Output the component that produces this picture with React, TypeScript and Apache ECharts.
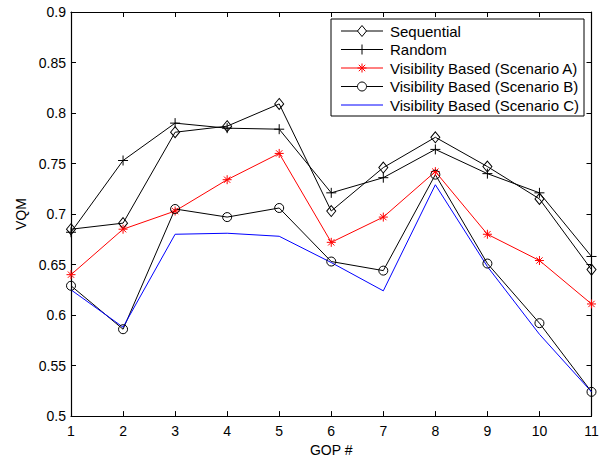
import React, { useEffect, useRef } from "react";
import * as echarts from "echarts";

const gopNumbers = [1, 2, 3, 4, 5, 6, 7, 8, 9, 10, 11];
const sequential = [0.685, 0.691, 0.781, 0.787, 0.809, 0.703, 0.746, 0.776, 0.747, 0.715, 0.645];
const random = [0.682, 0.753, 0.790, 0.785, 0.784, 0.721, 0.736, 0.764, 0.740, 0.721, 0.658];
const scenarioA = [0.640, 0.685, 0.703, 0.734, 0.760, 0.672, 0.697, 0.742, 0.680, 0.654, 0.611];
const scenarioB = [0.629, 0.586, 0.705, 0.697, 0.706, 0.653, 0.644, 0.739, 0.651, 0.592, 0.524];
const scenarioC = [0.625, 0.588, 0.680, 0.681, 0.678, 0.652, 0.624, 0.729, 0.648, 0.581, 0.524];
const seriesNames = [
  "Sequential",
  "Random",
  "Visibility Based (Scenario A)",
  "Visibility Based (Scenario B)",
  "Visibility Based (Scenario C)",
];

const FONT = "Liberation Sans, Arial, Helvetica, sans-serif";
const PLUS = "path://M5,0L5,10M0,5L10,5";
const STAR = "path://M5,0L5,10M0,5L10,5M1.5,1.5L8.5,8.5M1.5,8.5L8.5,1.5";
const DIAMOND = "path://M5,0L10,6L5,12L0,6Z";
const CIRCLE = "path://M10,5A5,5 0 1,1 0,5A5,5 0 1,1 10,5Z";
const CLEAR = "rgba(0,0,0,0)";
const BLUE = "#0000ff";
const RED = "#ff0000";
const BLACK = "#000";

const seriesColors = [BLACK, BLACK, RED, BLACK, BLUE];
const markerKinds = ["diamond", "plus", "star", "circle", "none"];

const toPairs = (vals: number[]) => gopNumbers.map((g, i) => [g, vals[i]]);

// legend layout (pixels)
const LEG_X = 331;
const LEG_Y = 19;
const LEG_W = 253;
const LEG_H = 97;
const ROW0 = 31;
const ROW_STEP = 18.5;
const LINE_X0 = 341;
const LINE_X1 = 383;
const TEXT_X = 390;

function markerGraphic(kind: string, cx: number, cy: number, color: string): any[] {
  const s = { stroke: color, lineWidth: 1, fill: "none" };
  if (kind === "diamond") {
    return [{ type: "polygon", shape: { points: [[cx, cy - 5.5], [cx + 4.5, cy], [cx, cy + 5.5], [cx - 4.5, cy]] }, style: { ...s, fill: "#fff" } }];
  }
  if (kind === "circle") {
    return [{ type: "circle", shape: { cx, cy, r: 4.5 }, style: { ...s, fill: "#fff" } }];
  }
  if (kind === "plus") {
    return [
      { type: "line", shape: { x1: cx, y1: cy - 5, x2: cx, y2: cy + 5 }, style: s },
      { type: "line", shape: { x1: cx - 5, y1: cy, x2: cx + 5, y2: cy }, style: s },
    ];
  }
  if (kind === "star") {
    const r = 4.5;
    const d = 3.2;
    return [
      { type: "line", shape: { x1: cx, y1: cy - r, x2: cx, y2: cy + r }, style: s },
      { type: "line", shape: { x1: cx - r, y1: cy, x2: cx + r, y2: cy }, style: s },
      { type: "line", shape: { x1: cx - d, y1: cy - d, x2: cx + d, y2: cy + d }, style: s },
      { type: "line", shape: { x1: cx - d, y1: cy + d, x2: cx + d, y2: cy - d }, style: s },
    ];
  }
  return [];
}

function buildLegend(): any[] {
  const els: any[] = [
    {
      type: "rect",
      shape: { x: LEG_X, y: LEG_Y, width: LEG_W, height: LEG_H },
      style: { fill: "#fff", stroke: BLACK, lineWidth: 1 },
    },
  ];
  seriesNames.forEach((name, i) => {
    const y = ROW0 + i * ROW_STEP;
    const color = seriesColors[i];
    els.push({
      type: "line",
      shape: { x1: LINE_X0, y1: y, x2: LINE_X1, y2: y },
      style: { stroke: color, lineWidth: 1 },
    });
    els.push(...markerGraphic(markerKinds[i], (LINE_X0 + LINE_X1) / 2, y, color));
    els.push({
      type: "text",
      x: TEXT_X,
      y,
      style: {
        text: name,
        fill: BLACK,
        font: `15px ${FONT}`,
        textVerticalAlign: "middle",
        verticalAlign: "middle",
        textAlign: "left",
      },
    });
  });
  return [{ type: "group", z: 100, children: els }];
}

export default function App() {
  const ref = useRef<HTMLDivElement>(null);
  useEffect(() => {
    if (!ref.current) return;
    const chart = echarts.init(ref.current, undefined, { renderer: "svg" });
    const mk = (name: string, vals: number[], color: string, symbol: string, size: any, hollow: boolean) => ({
      name,
      type: "line",
      data: toPairs(vals),
      symbol,
      symbolSize: size,
      showSymbol: symbol !== "none",
      lineStyle: { color, width: 1 },
      itemStyle: { color: hollow ? CLEAR : color, borderColor: color, borderWidth: 1 },
      emphasis: { disabled: true },
      z: 2,
    });
    const axisCommon = {
      type: "value",
      axisLine: { show: true, lineStyle: { color: BLACK, width: 1.2 } },
      axisTick: { show: true, inside: true, length: 5, lineStyle: { color: BLACK, width: 1 } },
      splitLine: { show: false },
    };
    chart.setOption({
      animation: false,
      backgroundColor: "#fff",
      textStyle: { fontFamily: FONT },
      grid: { left: 71, right: 16.5, top: 12, bottom: 39.3, containLabel: false },
      xAxis: [
        {
          ...axisCommon,
          min: 1,
          max: 11,
          interval: 1,
          name: "GOP #",
          nameLocation: "middle",
          nameGap: 24,
          nameTextStyle: { color: BLACK, fontSize: 14, fontFamily: FONT },
          axisLabel: { color: BLACK, fontSize: 14, margin: 8, fontFamily: FONT },
        },
        {
          ...axisCommon,
          position: "top",
          min: 1,
          max: 11,
          interval: 1,
          axisLabel: { show: false },
        },
      ],
      yAxis: [
        {
          ...axisCommon,
          min: 0.5,
          max: 0.9,
          interval: 0.05,
          name: "VQM",
          nameLocation: "middle",
          nameGap: 42,
          nameTextStyle: { color: BLACK, fontSize: 14, fontFamily: FONT },
          axisLabel: { color: BLACK, fontSize: 14, margin: 5, fontFamily: FONT },
        },
        {
          ...axisCommon,
          position: "right",
          min: 0.5,
          max: 0.9,
          interval: 0.05,
          axisLabel: { show: false },
        },
      ],
      graphic: buildLegend(),
      series: [
        mk(seriesNames[0], sequential, BLACK, DIAMOND, [9, 11], true),
        mk(seriesNames[1], random, BLACK, PLUS, 10, false),
        mk(seriesNames[2], scenarioA, RED, STAR, 9, false),
        mk(seriesNames[3], scenarioB, BLACK, CIRCLE, 9, true),
        mk(seriesNames[4], scenarioC, BLUE, "none", 0, false),
      ],
    });
    return () => chart.dispose();
  }, []);
  return <div ref={ref} style={{ width: 608, height: 462, position: "absolute", left: 0, top: 0 }} />;
}
